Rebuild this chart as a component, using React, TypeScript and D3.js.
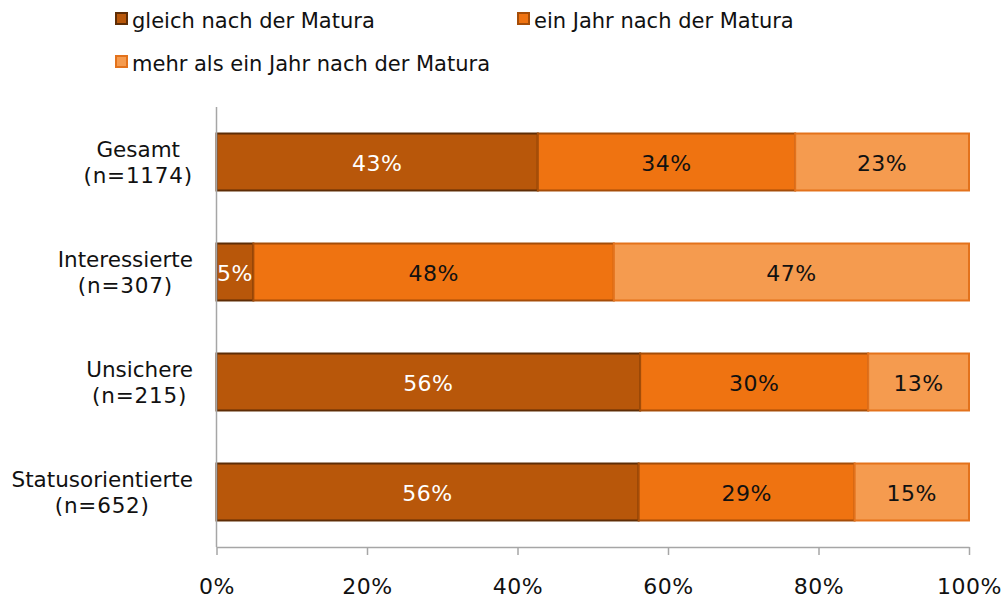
import React, { useEffect, useRef } from "react";
import * as d3 from "d3";

const categories = ["Gesamt", "Interessierte", "Unsichere", "Statusorientierte"];
const sampleSizes = ["(n=1174)", "(n=307)", "(n=215)", "(n=652)"];

const seriesNames = [
  "gleich nach der Matura",
  "ein Jahr nach der Matura",
  "mehr als ein Jahr nach der Matura",
];

const gleichNach = [42.7, 4.9, 56.3, 56.1];
const einJahrNach = [34.2, 47.9, 30.3, 28.7];
const mehrAlsEinJahr = [23.1, 47.2, 13.4, 15.2];

const xTicks = [0, 20, 40, 60, 80, 100];

const fills = ["#B8570A", "#EF7311", "#F59B4F"];
const strokes = ["#5E2D06", "#A54D08", "#E3721C"];
const labelColors = ["#FFFFFF", "#111111", "#111111"];

const FONT = "'DejaVu Sans', Verdana, sans-serif";

const App: React.FC = () => {
  const ref = useRef<SVGSVGElement>(null);

  useEffect(() => {
    if (!ref.current) return;
    const svg = d3.select(ref.current);
    svg.selectAll("*").remove();

    const margin = { top: 107, left: 216.5, right: 37, bottom: 49 };
    const W = 1006;
    const H = 596;

    const x = d3.scaleLinear().domain([0, 100]).range([margin.left, W - margin.right]);
    const y = d3
      .scaleBand<string>()
      .domain(categories)
      .range([margin.top, H - margin.bottom])
      .paddingInner(0.482)
      .paddingOuter(0.241);

    const series = [gleichNach, einJahrNach, mehrAlsEinJahr];
    const rows = categories.map((c, i) => {
      let acc = 0;
      return series.map((s, k) => {
        const seg = { cat: c, k, x0: acc, x1: acc + s[i], v: s[i] };
        acc += s[i];
        return seg;
      });
    });

    // bars
    const bars = svg.append("g");
    rows.forEach((segs) => {
      segs.forEach((d) => {
        bars
          .append("rect")
          .attr("x", x(d.x0))
          .attr("y", y(d.cat)!)
          .attr("width", x(d.x1) - x(d.x0))
          .attr("height", y.bandwidth())
          .attr("fill", fills[d.k])
          .attr("stroke", strokes[d.k])
          .attr("stroke-width", 2);
      });
    });

    // value labels
    rows.forEach((segs) => {
      segs.forEach((d) => {
        bars
          .append("text")
          .attr("x", (x(d.x0) + x(d.x1)) / 2)
          .attr("y", y(d.cat)! + y.bandwidth() / 2 + 8.5)
          .attr("text-anchor", "middle")
          .attr("font-family", FONT)
          .attr("font-size", 22)
          .attr("letter-spacing", 0.5)
          .attr("fill", labelColors[d.k])
          .text(`${Math.round(d.v)}%`);
      });
    });

    // y axis line
    svg
      .append("line")
      .attr("x1", margin.left)
      .attr("x2", margin.left)
      .attr("y1", margin.top)
      .attr("y2", H - margin.bottom)
      .attr("stroke", "#A6A6A6")
      .attr("stroke-width", 1.5);

    // x axis
    const xAxis = svg
      .append("g")
      .attr("transform", `translate(0,${H - margin.bottom})`)
      .call(
        d3
          .axisBottom(x)
          .tickValues(xTicks)
          .tickSizeInner(8)
          .tickSizeOuter(0)
          .tickFormat((d) => `${d}%`)
      );
    xAxis.selectAll("path,line").attr("stroke", "#A6A6A6").attr("stroke-width", 1.5);
    xAxis
      .selectAll("text")
      .attr("y", 47)
      .attr("dy", 0)
      .attr("font-family", FONT)
      .attr("font-size", 22)
      .attr("letter-spacing", 0.5)
      .attr("fill", "#111111");

    // category labels: two centered lines, right-aligned block
    const labelRight = 193;
    categories.forEach((c, i) => {
      const cy = y(c)! + y.bandwidth() / 2;
      const g = svg.append("g");
      const t1 = g
        .append("text")
        .attr("y", cy - 5)
        .attr("text-anchor", "middle")
        .attr("font-family", FONT)
        .attr("font-size", 21.5)
        .attr("fill", "#111111")
        .text(c);
      const t2 = g
        .append("text")
        .attr("y", cy + 21)
        .attr("text-anchor", "middle")
        .attr("font-family", FONT)
        .attr("font-size", 21.5)
        .attr("letter-spacing", 0.8)
        .attr("fill", "#111111")
        .text(sampleSizes[i]);
      const w = Math.max(
        (t1.node() as SVGTextElement).getComputedTextLength(),
        (t2.node() as SVGTextElement).getComputedTextLength()
      );
      t1.attr("x", labelRight - w / 2);
      t2.attr("x", labelRight - w / 2);
    });

    // legend
    const legendPos = [
      { x: 115, y: 12 },
      { x: 517, y: 12 },
      { x: 115, y: 55 },
    ];
    seriesNames.forEach((name, k) => {
      const p = legendPos[k];
      svg
        .append("rect")
        .attr("x", p.x + 1)
        .attr("y", p.y + 1)
        .attr("width", 11)
        .attr("height", 11)
        .attr("fill", fills[k])
        .attr("stroke", strokes[k])
        .attr("stroke-width", 2);
      svg
        .append("text")
        .attr("x", p.x + 17)
        .attr("y", p.y + 15.5)
        .attr("font-family", FONT)
        .attr("font-size", 21)
        .attr("fill", "#111111")
        .text(name);
    });
  }, []);

  return (
    <svg
      ref={ref}
      width={1006}
      height={596}
      style={{ position: "absolute", left: 0, top: 0, background: "#fff" }}
    />
  );
};

export default App;
